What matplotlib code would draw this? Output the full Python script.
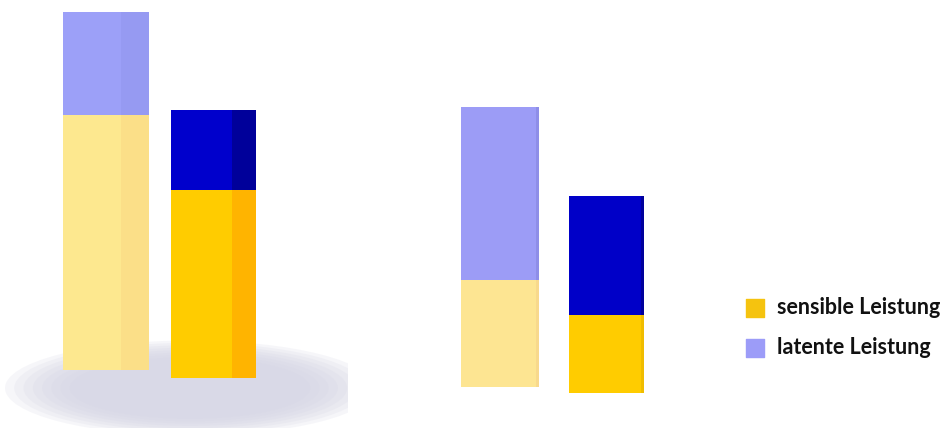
import matplotlib.pyplot as plt
from matplotlib.patches import Ellipse, Rectangle

# values (pixel heights, no axis shown)
labels = ['sensible Leistung', 'latente Leistung']
sensible = [255, 188, 107, 78]
latent = [103, 80, 173, 119]

# bar geometry (pixels)
front_left = [63, 171, 461, 569]
front_right = [121, 232, 536, 641]
side_right = [149, 256, 539, 644]
bottoms_px = [370, 378, 387, 393]

sens_front = ['#fde88f', '#ffcc00', '#fde592', '#ffcc00']
sens_side = ['#fbdf88', '#ffb400', '#f8d98c', '#f0bd00']
lat_front = ['#9ca0f8', '#0000cc', '#9c9cf6', '#0000c8']
lat_side = ['#969af2', '#00009a', '#8e8ee8', '#00009c']

W, H = 949, 428
fig = plt.figure(figsize=(W / 100, H / 100), dpi=100)
ax = fig.add_axes([0, 0, 1, 1])
ax.set_xlim(0, W)
ax.set_ylim(0, H)
ax.axis('off')

# soft floor shadow under the left group, cut off on the right
clip = Rectangle((0, 0), 348, H, transform=ax.transData)
for k in range(8):
    f = 1 - k * 0.05
    e = Ellipse((190, 40), 370 * f, 95 * f, facecolor='#d4d4e4', edgecolor='none',
                alpha=0.2, zorder=1)
    ax.add_patch(e)
    e.set_clip_path(clip)

for i in range(4):
    base = H - bottoms_px[i]
    fw = front_right[i] - front_left[i]
    sw = side_right[i] - front_right[i]
    ax.bar(front_left[i], sensible[i], width=fw, bottom=base, align='edge',
           color=sens_front[i], zorder=3)
    ax.bar(front_right[i], sensible[i], width=sw, bottom=base, align='edge',
           color=sens_side[i], zorder=3)
    ax.bar(front_left[i], latent[i], width=fw, bottom=base + sensible[i], align='edge',
           color=lat_front[i], zorder=3)
    ax.bar(front_right[i], latent[i], width=sw, bottom=base + sensible[i], align='edge',
           color=lat_side[i], zorder=3)

# legend
leg_colors = ['#f5c30f', '#9c9cf8']
leg_y = [H - 308, H - 348]
for lab, c, y in zip(labels, leg_colors, leg_y):
    ax.scatter([755], [y], marker='s', s=160, color=c, zorder=4)
    ax.text(777, y, lab, fontsize=15.5, fontweight='bold', family='Lato',
            va='center', ha='left', color='#111111')

fig.savefig('out.png', dpi=100)
